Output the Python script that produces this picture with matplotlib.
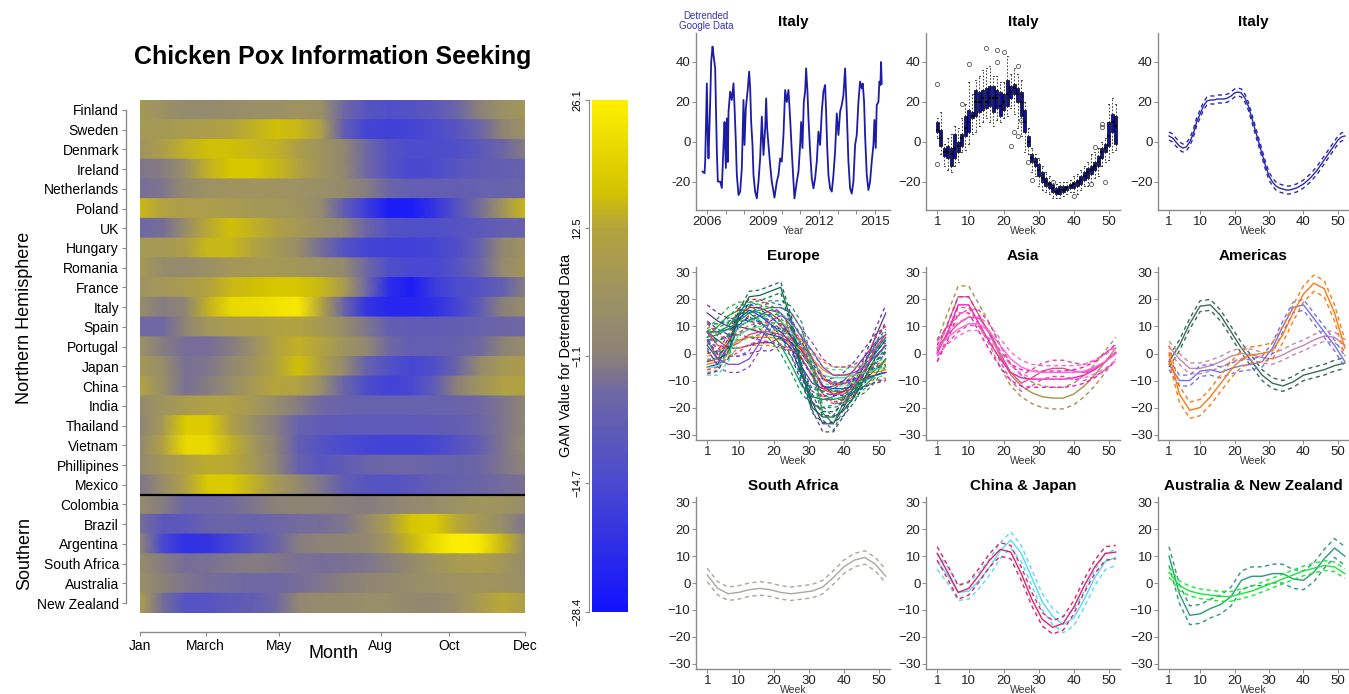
import matplotlib
matplotlib.use("Agg")
import matplotlib.pyplot as plt
import numpy as np
from matplotlib.colors import LinearSegmentedColormap, Normalize

plt.rcParams["font.family"] = ["Liberation Sans", "DejaVu Sans"]

W, H = 1349, 694

# ---- country GAM curves, sampled every 3 weeks (weeks 1, 4, ..., 52) ----
weeks = list(range(1, 53, 3))

countries = ["Finland", "Sweden", "Denmark", "Ireland", "Netherlands", "Poland", "UK",
             "Hungary", "Romania", "France", "Italy", "Spain", "Portugal", "Japan", "China",
             "India", "Thailand", "Vietnam", "Phillipines", "Mexico", "Colombia", "Brazil",
             "Argentina", "South Africa", "Australia", "New Zealand"]

finland = [8, 5, 2, 2, 3, 4, 4, 6, 4, -5, -11, -13, -12, -10, -6, -1, 4, 7]
sweden = [8, 8, 9, 10, 12, 14, 16, 15, 10, -8, -16, -17, -16, -14, -11, -6, 0, 5]
denmark = [6, 10, 14, 16, 16, 15, 14, 10, 6, 1, -5, -12, -14, -14, -13, -10, -6, -2]
ireland = [-3, -2, 4, 14, 17, 17, 15, 12, 6, 1, -5, -12, -15, -14, -11, -9, -8, -7]
netherlands = [-4, -3, 2, 5, 6, 6, 6, 5, 4, 2, -2, -6, -8, -8, -8, -7, -7, -6]
poland = [15, 12, 10, 10, 9, 8, 7, 6, 2, -8, -18, -26, -26, -20, -12, -4, 6, 15]
uk = [-5, -4, 3, 13, 16, 14, 11, 8, 4, 0, -6, -12, -13, -13, -12, -10, -8, -7]
hungary = [8, 8, 10, 15, 15, 12, 8, 3, -4, -12, -16, -17, -17, -16, -13, -7, 1, 6]
romania = [8, 3, 2, 4, 7, 8, 8, 7, 5, 2, -5, -13, -15, -15, -12, -6, 2, 7]
france = [6, 7, 9, 12, 15, 16, 17, 17, 15, 9, -5, -22, -26, -18, -14, -12, -8, -2]
italy = [3, -2, 0, 14, 21, 21.5, 23, 24.5, 12, -6, -20, -23.5, -23.5, -21, -16, -9, -1.5, 3]
spain = [-5, -5, 0, 7, 9, 10, 11, 12, 8, 3, -3, -8, -9, -9, -8, -7, -6, -5]
portugal = [5, -2, -4, -4, -2, 4, 12, 14, 12, 6, 1, -5, -8, -8, -7, -5, -1, 3]
japan = [8, 3, -3.5, -3, 1, 6, 12, 16, 11, 2, -7, -12.5, -15.5, -13, -6, 2, 8, 9.5]
china = [11, 4, -3.5, -2, 3, 8.5, 12.5, 11.5, 3.5, -6, -13.5, -16.5, -15, -9, -1, 6, 11, 11.5]
india = [2, 6, 9, 11, 11, 8, 3, -2, -5, -6.5, -7, -7, -7, -7, -6.5, -5, -3, 0]
thailand = [0, 8, 18, 18, 11, 4, -2, -7, -9, -9.5, -9.5, -9.5, -9.5, -9, -8, -6, -3, 0.5]
vietnam = [1, 11, 21, 21, 14, 7, -1, -8, -12, -14.5, -16, -16.5, -16.5, -15, -12, -8, -3, 2]
phillipines = [2, 7, 11, 13.5, 13, 8, 0, -7, -11, -9, -6.5, -5.5, -5.5, -6.5, -7, -5.5, -3, 0]
mexico = [-3, 3, 11, 17.5, 18, 14, 8, 2, -3, -8, -11, -12, -10.5, -8, -7, -6, -4.5, -3.5]
colombia = [2.5, -2, -5.5, -5.5, -4.5, -3, -1, 0, -0.5, -1.5, -2, -0.5, 1.5, 3, 5, 6.5, 6, 3]
brazil = [-4, -10, -10, -6.5, -6, -7, -5.5, -4.5, -4, -3, 2, 10, 17, 18, 13, 8, 3, -3]
argentina = [0, -15, -21, -20, -16, -11, -6, -2, -0.5, 0, 1, 7, 15, 22, 26, 24, 15, 2]
south_africa = [3, -2, -4, -3.5, -2.5, -2, -2.5, -3.5, -4, -3.5, -3, -1.5, 2, 6, 8.5, 9.5, 7, 2.5]
australia = [4, -1, -3, -4, -4.5, -5, -5, -4, -3, -1.5, 0, 1.5, 3, 4.5, 5.5, 6.5, 6, 3.5]
new_zealand = [10, -4, -12, -11.5, -9.5, -8, -5, 1, 2.5, 2.5, 3.5, 3.5, 1.5, 1, 4, 9, 13, 10]

curves = dict(zip(countries, [finland, sweden, denmark, ireland, netherlands, poland, uk,
                              hungary, romania, france, italy, spain, portugal, japan, china,
                              india, thailand, vietnam, phillipines, mexico, colombia, brazil,
                              argentina, south_africa, australia, new_zealand]))

# half width of confidence band per curve
band = {"Finland": 3, "Sweden": 3, "Denmark": 3, "Ireland": 3, "Netherlands": 3, "Poland": 3,
        "UK": 2.5, "Hungary": 3, "Romania": 3.5, "France": 2.5, "Italy": 2, "Spain": 3,
        "Portugal": 3, "Japan": 3, "China": 2.5, "India": 2.5, "Thailand": 3, "Vietnam": 4,
        "Phillipines": 3, "Mexico": 2, "Colombia": 2, "Brazil": 2, "Argentina": 3,
        "South Africa": 2.5, "Australia": 1.8, "New Zealand": 3.5}

europe = ["Finland", "Sweden", "Denmark", "Ireland", "Netherlands", "Poland", "UK",
          "Hungary", "Romania", "France", "Italy", "Spain", "Portugal"]
europe_colors = ["#6a3d9a", "#1f78b4", "#33a02c", "#e31a1c", "#ff7f00", "#553399", "#1040ff",
                 "#00a050", "#ff3366", "#2e8b57", "#0b6b4a", "#44dd88", "#8844cc"]
asia = ["Vietnam", "Thailand", "Phillipines", "India"]
asia_colors = ["#a8904c", "#ff10cc", "#d9508f", "#ff66dd"]
americas = ["Mexico", "Colombia", "Brazil", "Argentina"]
americas_colors = ["#3a6b5a", "#c686a8", "#7373ee", "#ff7a10"]

# ---- Italy: detrended weekly series (decimal year, value) ----
italy_series = [
    (2005.750, -14.8), (2005.857, -15.6), (2005.893, -9.8), (2005.982, 29.3), (2006.036, 0),
    (2006.071, -8.2), (2006.161, 20), (2006.214, 40), (2006.286, 47.7), (2006.339, 43.5),
    (2006.429, 36.8), (2006.464, 20), (2006.518, -4.8), (2006.571, -19.8), (2006.696, -19.8),
    (2006.786, -23), (2006.875, -1.5), (2006.929, 10), (2007.000, -13), (2007.054, 11.8),
    (2007.107, -10), (2007.143, 15.2), (2007.232, 25.2), (2007.321, 21), (2007.411, 29.3),
    (2007.464, 18), (2007.536, 0), (2007.589, -16.5), (2007.679, -26.5), (2007.768, -24.8),
    (2007.857, -13), (2007.946, 21), (2008.000, -1.5), (2008.071, 16.8), (2008.179, 26.8),
    (2008.250, 35.2), (2008.304, 26.8), (2008.357, 10), (2008.429, -1.5), (2008.482, -16.5),
    (2008.571, -24.8), (2008.661, -28.2), (2008.750, -19.8), (2008.839, -8.2), (2008.929, 12.7),
    (2009.018, -6.5), (2009.107, 6.8), (2009.161, 21.8), (2009.214, 6.8), (2009.286, -1.5),
    (2009.375, -11.5), (2009.464, -19.8), (2009.607, -27.8), (2009.732, -19.8), (2009.821, -16.5),
    (2009.911, -8.2), (2010.000, -9.8), (2010.089, 3.5), (2010.179, 26), (2010.268, 20),
    (2010.357, 26), (2010.446, 11.8), (2010.536, -4.8), (2010.625, -19.8), (2010.679, -28.2),
    (2010.804, -19.8), (2010.893, -14.8), (2010.982, -1.5), (2011.036, 10), (2011.107, -3),
    (2011.179, 20), (2011.250, 25.2), (2011.304, 36.8), (2011.375, 25.2), (2011.429, 11.8),
    (2011.518, -4.8), (2011.607, -18.2), (2011.696, -23.2), (2011.786, -18.2), (2011.875, -9.8),
    (2011.964, 5.2), (2012.054, -1.5), (2012.143, 15.2), (2012.232, 25.2), (2012.321, 28.5),
    (2012.375, 15.2), (2012.429, -1.5), (2012.500, -16.5), (2012.589, -23.2), (2012.679, -24.8),
    (2012.768, -16.5), (2012.857, -4.8), (2012.946, 14.3), (2013.036, 3.5), (2013.125, 15.2),
    (2013.214, 18.5), (2013.304, 23.5), (2013.393, 36.8), (2013.482, 15.2), (2013.571, -9.8),
    (2013.661, -23.2), (2013.750, -25.8), (2013.839, -19.8), (2013.929, -1.5), (2014.018, 3.5),
    (2014.107, 20), (2014.196, 30.2), (2014.286, 26.8), (2014.339, 29.2), (2014.411, 20),
    (2014.464, 3.5), (2014.554, -16.5), (2014.643, -24), (2014.732, -19.8), (2014.821, -9.8),
    (2014.911, -1.5), (2014.964, 11), (2015.036, -3), (2015.089, 18.5), (2015.179, 20),
    (2015.232, 30.2), (2015.286, 28.5), (2015.321, 40), (2015.357, 29.2),
]

# ---- Italy: weekly boxplot stats (weeks 1..52) ----
box_med = [6, 2, -5, -5, -6, -3, -2, 2, 7, 10, 13, 20, 20, 22, 20, 22, 22, 22, 18, 20, 24,
           25, 27, 24, 20, 10, 0, -8, -10, -14, -18, -20, -21, -23, -25, -24, -24, -23, -22,
           -21, -20, -19, -17, -15, -14, -12, -10, -5, -3, 3, 10, 8]
box_q1 = [5, -2, -7, -8, -12, -8, -5, -2, 3, 5, 12, 13, 15, 16, 17, 18, 15, 17, 13, 16, 18,
          22, 24, 20, 13, 5, -2, -10, -12, -17, -20, -22, -23, -25, -26, -26, -25, -24, -23,
          -23, -22, -21, -19, -18, -16, -14, -12, -8, -5, -2, 5, -1]
box_q3 = [10, 6, -3, -2, -3, 4, 0, 4, 13, 16, 15, 26, 25, 26, 27, 28, 28, 26, 25, 24, 31,
          28, 29, 27, 25, 16, 3, -6, -8, -11, -15, -18, -20, -21, -23, -22, -22, -22, -21,
          -20, -19, -17, -15, -13, -12, -10, -7, -3, -1, 10, 14, 13]
box_lo = [2, -6, -12, -14, -15, -12, -10, -5, -4, -1, 4, 5, 8, 10, 12, 10, 8, 11, 10, 12, 13,
          17, 14, 7, 3, -5, -6, -15, -17, -22, -24, -25, -26, -28, -28, -28, -27, -26, -25,
          -25, -26, -24, -22, -22, -20, -18, -17, -12, -10, -9, -5, -4]
box_hi = [12, 15, -1, 2, 4, 8, 7, 12, 19, 30, 24, 31, 33, 36, 37, 38, 33, 33, 30, 30, 43,
          34, 37, 34, 31, 20, 7, -3, -6, -8, -12, -15, -17, -19, -21, -20, -20, -20, -19,
          -17, -16, -14, -12, -10, -6, -5, -3, 0, 2, 19, 22, 19]
out_week = [1, 1, 8, 10, 15, 18, 18, 20, 22, 23, 24, 24, 25, 27, 28, 34, 40, 45, 46, 48, 48, 49]
out_val = [29, -11, 19, 39, 47, 46, 40, 45, -2, 5, 3, 38, 11, -10, -19, -20, -27, -21, -2.5, 9, 7.5, -20]

# ---- Italy: weekly GAM fit ----
italy_gam = [3, 2, 0, -2, -3, -2.5, 0, 4, 10, 14, 18, 20.5, 21, 21, 21.5, 21.5, 21.5, 22, 23,
             24.5, 25, 24.5, 22, 18, 12, 6, 0, -6, -12, -17, -20, -22, -23, -23.5, -24, -24,
             -23.5, -23, -22, -21, -19.5, -18, -16, -14, -11.5, -9, -6.5, -4, -1.5, 1, 2.5, 3]
italy_band = 2

month_labels = ["Jan", "March", "May", "Aug", "Oct", "Dec"]
month_weeks = [1, 9.7, 19.4, 32.9, 41.9, 52]
cbar_ticks = [26.1, 12.5, -1.1, -14.7, -28.4]
vmin, vmax = -28.4, 26.1

# colour scale blue -> grey -> yellow
stops = [(-28.4, "#1212ff"), (-14.7, "#4a4ad0"), (-5.0, "#6f68a4"), (-1.1, "#8c8278"),
         (5.0, "#9c9264"), (12.5, "#b4a43e"), (16.5, "#d4c400"), (26.1, "#fff000")]
cmap = LinearSegmentedColormap.from_list(
    "gam", [((v - vmin) / (vmax - vmin), c) for v, c in stops])
norm = Normalize(vmin, vmax)

fig = plt.figure(figsize=(W / 100, H / 100), dpi=100)
PT = 72 / 100  # points per pixel


def px_axes(x0, y0, x1, y1):
    return fig.add_axes([x0 / W, 1 - y1 / H, (x1 - x0) / W, (y1 - y0) / H])


AX_GREY = "#8a8a8a"

# ---------------- heatmap ----------------
hm = px_axes(140, 100, 525, 613)
for i, name in enumerate(countries):
    v = np.array(curves[name], dtype=float)
    hm.pcolormesh(weeks, [i - 0.5, i + 0.5], np.vstack([v, v]), cmap=cmap, norm=norm,
                  shading="gouraud")
hm.set_xlim(1, 52)
hm.set_ylim(len(countries) - 0.5, -0.5)
hm.axhline(countries.index("Mexico") + 0.5, color="black", lw=1.6)
for s in ["top", "right"]:
    hm.spines[s].set_visible(False)
hm.spines["left"].set_position(("outward", 14 * PT))
hm.spines["left"].set_bounds(0, len(countries) - 1)
hm.spines["bottom"].set_position(("outward", 19 * PT))
hm.spines["bottom"].set_bounds(1, 52)
for s in ["left", "bottom"]:
    hm.spines[s].set_color(AX_GREY)
    hm.spines[s].set_linewidth(1)
hm.set_yticks(range(len(countries)))
hm.set_yticklabels(countries, fontsize=10)
hm.set_xticks(month_weeks)
hm.set_xticklabels(month_labels, fontsize=10)
hm.tick_params(color=AX_GREY, length=3, width=0.8, pad=2)

fig.text(333 / W, 1 - 57 / H, "Chicken Pox Information Seeking", fontsize=18,
         fontweight="bold", ha="center", va="center")
fig.text(25 / W, 1 - 318 / H, "Northern Hemisphere", fontsize=13, rotation=90,
         ha="center", va="center")
fig.text(25 / W, 1 - 553 / H, "Southern", fontsize=13, rotation=90, ha="center", va="center")
fig.text(333 / W, 1 - 653 / H, "Month", fontsize=13, ha="center", va="center")

# ---------------- colour bar ----------------
cax = px_axes(592, 100, 628, 612)
cax.imshow(np.linspace(vmin, vmax, 256)[:, None], cmap=cmap, norm=norm, aspect="auto",
           origin="lower", extent=[0, 1, vmin, vmax])
cax.set_xticks([])
for s in ["top", "right", "bottom"]:
    cax.spines[s].set_visible(False)
cax.spines["left"].set_position(("outward", 3 * PT))
cax.spines["left"].set_color(AX_GREY)
cax.set_yticks(cbar_ticks)
cax.set_yticklabels([f"{t:.1f}".replace("-", "\u2212") for t in cbar_ticks], fontsize=8,
                    rotation=90, va="center")
cax.tick_params(color=AX_GREY, length=3, pad=2)
fig.text(566 / W, 1 - 355 / H, "GAM Value for Detrended Data", fontsize=10.5, rotation=90,
         ha="center", va="center")

# ---------------- small panels ----------------
cols = [(696, 890), (926, 1120), (1158, 1349)]
rows = [(33, 210), (267, 440), (497, 669)]


def panel(r, c, title, xlabel="Week"):
    ax = px_axes(cols[c][0], rows[r][0], cols[c][1], rows[r][1])
    for s in ["top", "right"]:
        ax.spines[s].set_visible(False)
    for s in ["left", "bottom"]:
        ax.spines[s].set_color(AX_GREY)
        ax.spines[s].set_linewidth(1)
    ax.tick_params(color=AX_GREY, length=3, width=0.7, labelsize=9.5, pad=1,
                   labelcolor="#222222")
    ax.set_title(title, fontsize=11, fontweight="bold", pad=5)
    ax.set_xlabel(xlabel, fontsize=7.5, labelpad=-1, color="#333333")
    if xlabel == "Week":
        ax.set_xlim(-2.2, 53.2)
        ax.set_xticks([1, 10, 20, 30, 40, 50])
    if r == 0:
        ax.set_ylim(-34, 54.5)
        ax.set_yticks([-20, 0, 20, 40])
    else:
        ax.set_ylim(-32, 32)
        ax.set_yticks([-30, -20, -10, 0, 10, 20, 30])
    return ax


def gam(ax, x, y, hw, color, lw=1.0):
    y = np.asarray(y, dtype=float)
    ax.plot(x, y, color=color, lw=lw, solid_joinstyle="round")
    ax.plot(x, y + hw, color=color, lw=lw, ls=(0, (3, 2.5)))
    ax.plot(x, y - hw, color=color, lw=lw, ls=(0, (3, 2.5)))


# time series
ax = panel(0, 0, "Italy", xlabel="Year")
ts_year, ts_val = zip(*italy_series)
ax.plot(ts_year, ts_val, color="#1c1ca6", lw=1.3)
ax.set_xlim(2005.4, 2015.8)
years = list(range(2006, 2016))
ax.set_xticks(years)
ax.set_xticklabels([str(y) if (y - 2006) % 3 == 0 else "" for y in years])
ax.set_yticklabels(["-20", "0", "20", "40"])
fig.text(706 / W, 1 - 21 / H, "Detrended\nGoogle Data", fontsize=7, color="#3434c0",
         ha="center", va="center", linespacing=1.0)

# boxplots
ax = panel(0, 1, "Italy")
stats = []
for k in range(52):
    wk = k + 1
    stats.append(dict(med=box_med[k], q1=box_q1[k], q3=box_q3[k], whislo=box_lo[k],
                      whishi=box_hi[k],
                      fliers=[v for w, v in zip(out_week, out_val) if w == wk]))
ax.bxp(stats, positions=list(range(1, 53)), widths=0.8, patch_artist=True, manage_ticks=False,
       boxprops=dict(facecolor="#10109a", edgecolor="black", lw=0.5),
       whiskerprops=dict(color="#222222", lw=0.6, ls=(0, (2, 2))),
       capprops=dict(color="#222222", lw=0.6),
       medianprops=dict(color="black", lw=1.2),
       flierprops=dict(marker="o", mfc="none", mec="#555555", ms=3, mew=0.6))
ax.set_xticks([1, 10, 20, 30, 40, 50])

# Italy gam
ax = panel(0, 2, "Italy")
gam(ax, range(1, 53), italy_gam, italy_band, "#2a2ab0")

ax = panel(1, 0, "Europe")
for name, col in zip(europe, europe_colors):
    gam(ax, weeks, curves[name], band[name], col, lw=0.9)

ax = panel(1, 1, "Asia")
for name, col in zip(asia, asia_colors):
    gam(ax, weeks, curves[name], band[name], col)

ax = panel(1, 2, "Americas")
for name, col in zip(americas, americas_colors):
    gam(ax, weeks, curves[name], band[name], col)

ax = panel(2, 0, "South Africa")
gam(ax, weeks, curves["South Africa"], band["South Africa"], "#a8a89c")

ax = panel(2, 1, "China & Japan")
gam(ax, weeks, curves["Japan"], band["Japan"], "#55d8ff")
gam(ax, weeks, curves["China"], band["China"], "#dd2266")

ax = panel(2, 2, "Australia & New Zealand")
gam(ax, weeks, curves["New Zealand"], band["New Zealand"], "#2a9a7a")
gam(ax, weeks, curves["Australia"], band["Australia"], "#10ee30")

fig.savefig("out.png", dpi=100)
